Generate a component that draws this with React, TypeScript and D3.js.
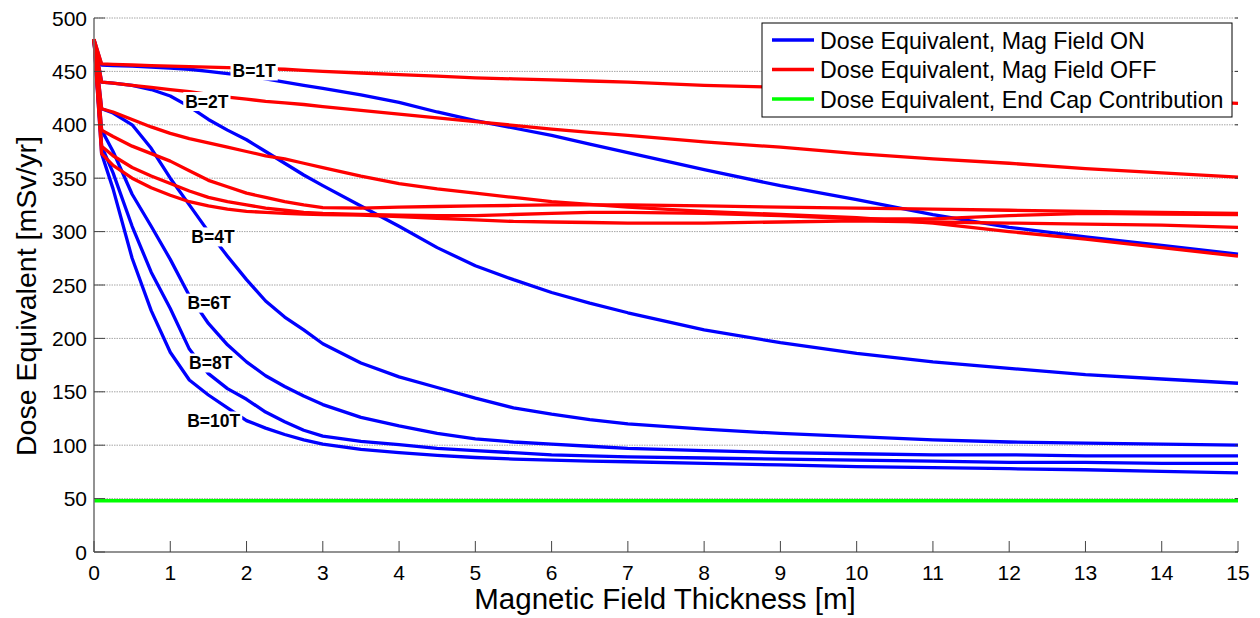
import React from 'react';
import * as d3 from 'd3';

const WIDTH = 1260;
const HEIGHT = 618;
const FONT = "'Liberation Sans', Arial, Helvetica, sans-serif";

// Magnetic field thickness sample points [m]
const THICKNESS = [0, 0.1, 0.25, 0.5, 0.75, 1, 1.25, 1.5, 1.75, 2, 2.25, 2.5, 2.75, 3, 3.5, 4, 4.5, 5, 5.5, 6, 6.5, 7, 8, 9, 10, 11, 12, 13, 14, 15];

// Dose equivalent with the magnetic field ON [mSv/yr]
const ON_1T = [480, 456, 455.5, 455, 454, 453, 452, 450, 448, 446, 443, 440, 437, 434, 428, 421, 412, 404, 397, 390, 382, 374, 358, 343, 330, 316, 304, 295, 287, 279];
const ON_2T = [480, 440, 439, 437, 433, 427, 417, 405, 395, 386, 375, 364, 353, 343, 324, 305, 285, 268, 255, 243, 233, 224, 208, 196, 186, 178, 172, 166, 162, 158];
const ON_4T = [480, 415, 411, 400, 378, 350, 325, 300, 277, 255, 235, 220, 208, 195, 177, 164, 154, 144, 135, 129, 124, 120, 115, 111, 108, 105, 103, 102, 101, 100];
const ON_6T = [480, 395, 375, 335, 305, 274, 240, 214, 194, 178, 165, 155, 146, 138, 126, 118, 111, 106, 103, 101, 99, 97, 95, 93, 92, 91, 91, 90, 90, 90];
const ON_8T = [480, 380, 355, 305, 262, 228, 190, 167, 153, 143, 131, 122, 114, 108.5, 103.5, 100.5, 97, 95, 93, 91, 90, 89, 88, 87, 86, 85, 84, 84, 83, 83];
const ON_10T = [480, 373, 340, 275, 226, 187, 161, 147, 135, 123, 116, 110, 105, 101, 96, 93, 90.5, 88.5, 87, 86, 85, 84.5, 83, 81.5, 80, 79, 78, 77, 75.5, 74];

// Dose equivalent with the magnetic field OFF [mSv/yr]
const OFF_1T = [480, 457, 456.5, 456, 455.5, 455, 454.5, 454, 453.5, 453, 452.5, 452, 451, 450, 448.5, 447, 445.5, 444, 443, 442, 441, 440, 437, 435, 432, 430, 427, 425, 423, 420];
const OFF_2T = [480, 440, 439, 437, 435, 433, 431, 428.5, 426, 424, 422, 420.5, 419, 417, 413.5, 410, 406.5, 403, 399.5, 396, 393, 390, 384, 379, 373, 368, 364, 359, 355, 351];
const OFF_4T = [480, 415, 412, 405, 398, 392, 387, 383, 379, 375, 371, 368, 364, 360, 352, 345, 340, 336, 332, 328, 325.5, 323, 319, 316, 313, 308, 300, 293, 285, 277];
const OFF_6T = [480, 395, 389, 380, 373, 366, 357, 348, 342, 336, 332, 328, 325, 322.5, 322, 323, 323.5, 324, 324.5, 325, 325, 325, 324, 323, 322, 321, 320, 319, 318, 317];
const OFF_8T = [480, 380, 371, 360, 352, 345, 338, 332, 328, 325, 322, 320, 318, 317, 316, 315.5, 315, 315, 316, 317, 318, 318, 317, 315, 312, 312, 315, 317, 316.5, 316];
const OFF_10T = [480, 373, 362, 350, 341, 334, 328, 324, 321, 319, 318, 317, 316.5, 316, 315.5, 314, 312.5, 311, 309.5, 309, 308.5, 308, 308, 309, 310, 309, 308, 307, 306, 304];

// End cap contribution [mSv/yr]
const END_CAP_X = [0, 15];
const END_CAP = [48, 48];

const ON_SERIES = [ON_1T, ON_2T, ON_4T, ON_6T, ON_8T, ON_10T];
const OFF_SERIES = [OFF_1T, OFF_2T, OFF_4T, OFF_6T, OFF_8T, OFF_10T];

// Curve annotations (field strength), placed in data units
const LABEL_TEXT = ['B=1T', 'B=2T', 'B=4T', 'B=6T', 'B=8T', 'B=10T'];
const LABEL_X = [2.1, 1.48, 1.56, 1.51, 1.53, 1.57];
const LABEL_Y = [450.4, 421.8, 295, 233, 177, 122.7];

const X_TICKS = d3.range(0, 16, 1);
const Y_TICKS = d3.range(0, 501, 50);

const LEGEND_ITEMS = [
  { label: 'Dose Equivalent, Mag Field ON', color: '#0000ff' },
  { label: 'Dose Equivalent, Mag Field OFF', color: '#ff0000' },
  { label: 'Dose Equivalent, End Cap Contribution', color: '#00ff00' },
];

const PLOT = { left: 94, right: 1238, top: 18, bottom: 552 };

// approximate bold glyph advance widths (em) for the label boxes
const BOLD_EM: Record<string, number> = { B: 0.722, '=': 0.584, T: 0.611 };
const boldWidth = (t: string, size: number) =>
  t.split('').reduce((acc, c) => acc + (BOLD_EM[c] ?? 0.556), 0) * size;

export default function App() {
  const x = d3.scaleLinear().domain([0, 15]).range([PLOT.left, PLOT.right]);
  const y = d3.scaleLinear().domain([0, 500]).range([PLOT.bottom, PLOT.top]);

  const line = d3
    .line<[number, number]>()
    .x((d) => x(d[0]))
    .y((d) => y(d[1]));

  const toPts = (vals: number[], xs: number[] = THICKNESS) =>
    vals.map((v, i) => [xs[i], v] as [number, number]);

  const labelFont = 17.5;

  return (
    <svg
      width={WIDTH}
      height={HEIGHT}
      style={{ position: 'absolute', left: 0, top: 0, background: '#fff' }}
      fontFamily={FONT}
    >
      <rect x={0} y={0} width={WIDTH} height={HEIGHT} fill="#fff" />

      {/* horizontal grid */}
      {Y_TICKS.filter((t) => t > 0).map((t) => (
        <line
          key={'g' + t}
          x1={PLOT.left}
          x2={PLOT.right}
          y1={y(t)}
          y2={y(t)}
          stroke="#a6a6a6"
          strokeWidth={1}
          strokeDasharray="1.5,1"
        />
      ))}

      {/* field ON curves */}
      {ON_SERIES.map((s, i) => (
        <path key={'on' + i} d={line(toPts(s)) || ''} fill="none" stroke="#0000ff" strokeWidth={3.3} strokeLinejoin="round" />
      ))}
      {/* field OFF curves */}
      {OFF_SERIES.map((s, i) => (
        <path key={'off' + i} d={line(toPts(s)) || ''} fill="none" stroke="#ff0000" strokeWidth={3.3} strokeLinejoin="round" />
      ))}
      {/* end cap */}
      <path d={line(toPts(END_CAP, END_CAP_X)) || ''} fill="none" stroke="#00ff00" strokeWidth={3.3} />

      {/* curve labels */}
      {LABEL_TEXT.map((t, i) => {
        const cx = x(LABEL_X[i]);
        const cy = y(LABEL_Y[i]);
        const w = boldWidth(t, labelFont) + 4;
        return (
          <g key={'lbl' + i}>
            <rect x={cx - w / 2} y={cy - 9.5} width={w} height={19} fill="#fff" />
            <text x={cx} y={cy + 6.3} textAnchor="middle" fontSize={labelFont} fontWeight="bold" fill="#000">
              {t}
            </text>
          </g>
        );
      })}

      {/* axes */}
      <line x1={PLOT.left} x2={PLOT.left} y1={PLOT.top} y2={PLOT.bottom} stroke="#6e6e6e" strokeWidth={1.5} />
      <line x1={PLOT.left} x2={PLOT.right} y1={PLOT.bottom} y2={PLOT.bottom} stroke="#6e6e6e" strokeWidth={1.5} />

      {X_TICKS.map((t) => (
        <g key={'xt' + t}>
          <line x1={x(t)} x2={x(t)} y1={PLOT.bottom} y2={PLOT.bottom - 11} stroke="#444" strokeWidth={1} />
          <text x={x(t)} y={PLOT.bottom + 28} textAnchor="middle" fontSize={21} fill="#000">
            {t}
          </text>
        </g>
      ))}
      {Y_TICKS.map((t) => (
        <g key={'yt' + t}>
          <line x1={PLOT.left} x2={PLOT.left + 11} y1={y(t)} y2={y(t)} stroke="#444" strokeWidth={1} />
          <line x1={PLOT.right - 3} x2={PLOT.right} y1={y(t)} y2={y(t)} stroke="#333" strokeWidth={1} />
          <text x={PLOT.left - 7} y={y(t) + 7.5} textAnchor="end" fontSize={21} fill="#000">
            {t}
          </text>
        </g>
      ))}

      {/* axis titles */}
      <text x={665} y={609} textAnchor="middle" fontSize={29.5} fill="#000">
        Magnetic Field Thickness [m]
      </text>
      <text
        transform={`translate(36, 296) rotate(-90)`}
        textAnchor="middle"
        fontSize={28.5}
        fill="#000"
      >
        Dose Equivalent [mSv/yr]
      </text>

      {/* legend */}
      <g>
        <rect x={762} y={23} width={470} height={94} fill="#fff" stroke="#000" strokeWidth={1} />
        {LEGEND_ITEMS.map((it, i) => {
          const ly = 40 + i * 29.5;
          return (
            <g key={'lg' + i}>
              <line x1={772} x2={814} y1={ly} y2={ly} stroke={it.color} strokeWidth={3.3} />
              <text x={820} y={ly + 8.5} fontSize={23.2} fill="#000">
                {it.label}
              </text>
            </g>
          );
        })}
      </g>
    </svg>
  );
}
